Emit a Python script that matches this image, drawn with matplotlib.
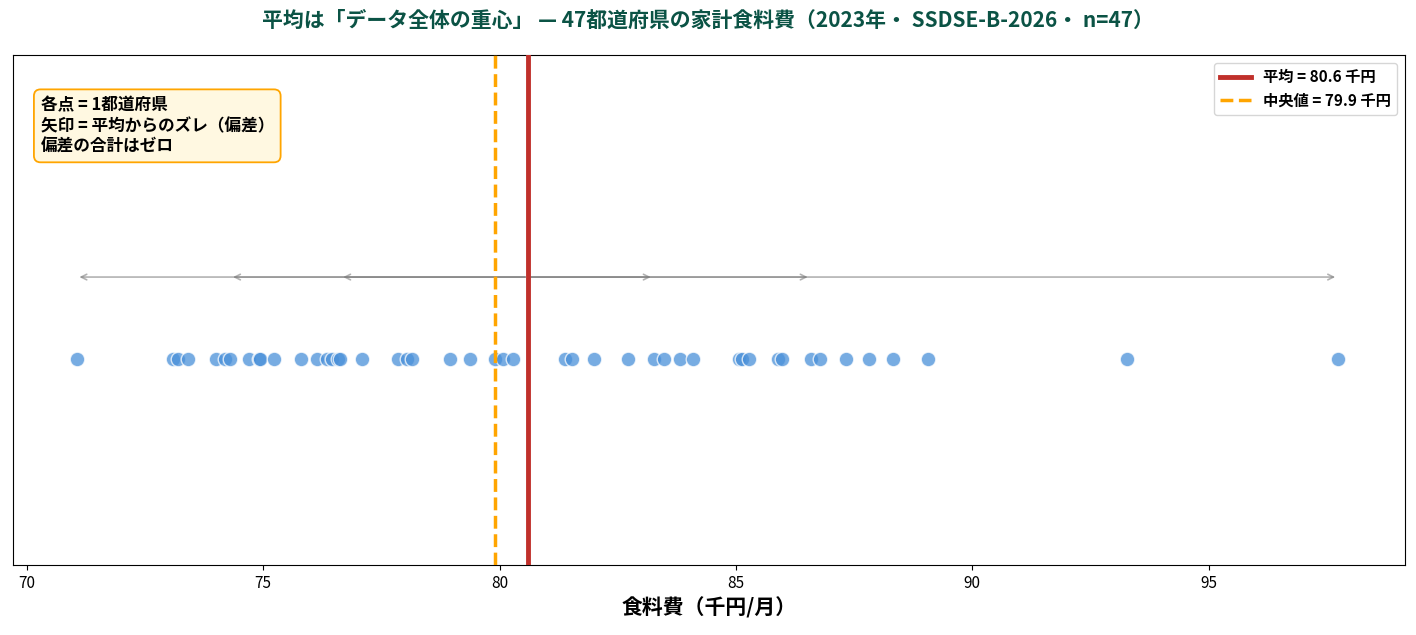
import matplotlib
matplotlib.use("Agg")
import matplotlib.pyplot as plt
import numpy as np

plt.rcParams['font.family'] = ['Noto Sans CJK JP', 'DejaVu Sans']

food = [71.05, 73.09, 73.2, 73.41, 73.99, 74.19, 74.3, 74.7, 74.9, 74.93, 75.23,
        75.79, 76.13, 76.34, 76.45, 76.59, 76.63, 77.1, 77.86, 78.04, 78.14,
        78.95, 79.38, 79.91, 80.07, 80.28,
        81.39, 81.54, 81.99, 82.71, 83.26, 83.47, 83.82, 84.1, 85.06, 85.13,
        85.27, 85.9, 85.98, 86.58, 86.79, 87.32, 87.81, 88.32, 89.06, 93.27, 97.74]
arrow_idx = [0, 6, 16, 30, 39, 46]
mean_v = 80.6
median_v = 79.9

fig = plt.figure(figsize=(14.16, 6.35), dpi=100)
ax = fig.add_axes([0.009, 0.11, 0.983, 0.803])
vals = np.sort(np.array(food))
ax.scatter(vals, np.full(len(vals), -0.19), s=110, color='#4a90d9', alpha=0.75,
           edgecolors='white', linewidths=1, zorder=3)
for i in arrow_idx:
    ax.annotate('', xy=(vals[i], 0.13), xytext=(mean_v, 0.13),
                arrowprops=dict(arrowstyle='->', color='gray', alpha=0.6, lw=1.2))
ax.axvline(mean_v, color='#c0302b', lw=3.5, label=f'平均 = {mean_v:.1f} 千円', zorder=4)
ax.axvline(median_v, color='orange', lw=2.5, ls='--', label=f'中央値 = {median_v:.1f} 千円', zorder=4)
ax.set_xlim(69.7, 99.15)
ax.set_ylim(-1, 1)
ax.set_yticks([])
ax.set_xticks([70, 75, 80, 85, 90, 95])
ax.tick_params(axis='x', labelsize=11)
ax.set_xlabel('食料費（千円/月）', fontsize=15, fontweight='bold')
ax.legend(loc='upper right', fontsize=11, prop={'weight': 'bold', 'size': 11})
ax.text(0.02, 0.92, '各点 = 1都道府県\n矢印 = 平均からのズレ（偏差）\n偏差の合計はゼロ',
        transform=ax.transAxes, va='top', ha='left', fontsize=12, fontweight='bold',
        bbox=dict(boxstyle='round,pad=0.4', fc='#fff8e1', ec='orange', lw=1.3))
fig.suptitle('平均は「データ全体の重心」 — 47都道府県の家計食料費（2023年・ SSDSE-B-2026・ n=47）',
             fontsize=15, fontweight='bold', color='#0b5345', y=0.985)
fig.savefig('out.png', dpi=100)
